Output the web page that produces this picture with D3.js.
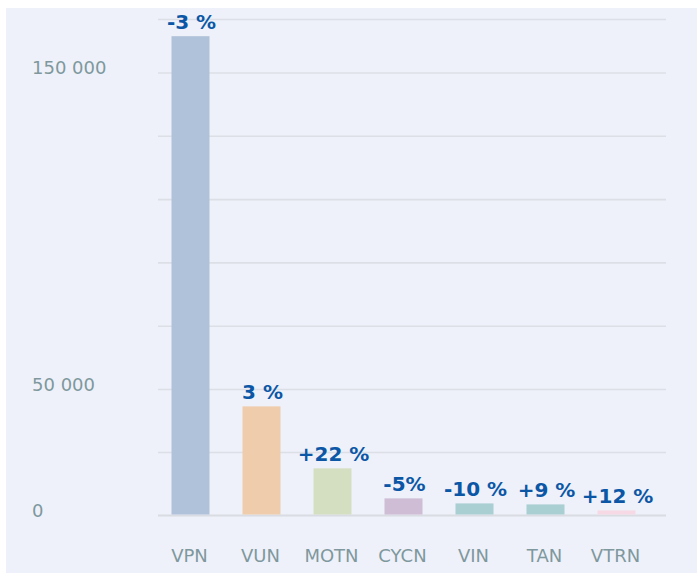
<!DOCTYPE html>
<html>
<head>
<meta charset="utf-8">
<script src="https://cdn.jsdelivr.net/npm/d3@7"></script>
<style>
  html, body { margin: 0; padding: 0; background: #ffffff; }
  svg { display: block; }
</style>
</head>
<body>
<svg id="chart" width="698" height="573"></svg>
<script>
// ---- data ----
const categories = ["VPN", "VUN", "MOTN", "CYCN", "VIN", "TAN", "VTRN"];
const values = [161700, 43300, 18700, 6800, 4800, 4400, 2000];
const changeLabels = ["-3 %", "3 %", "+22 %", "-5%", "-10 %", "+9 %", "+12 %"];
const barColors = ["#b0c1da", "#efccab", "#d4dec0", "#cfbdd6", "#a9cfd3", "#a9cfd3", "#f6d9e4"];
const tickValues = [0, 50000, 150000];
const tickLabels = ["0", "50 000", "150 000"];
const gridValues = [0, 25000, 50000, 70000, 90000, 110000, 130000, 150000, 167000];

// ---- layout ----
const svg = d3.select("#chart");
const W = 698, H = 573;
const plotLeft = 158, plotRight = 666;

svg.append("rect")
  .attr("x", 6).attr("y", 8)
  .attr("width", W - 7).attr("height", H - 8)
  .attr("fill", "#eef1f9");

const y = d3.scaleLinear()
  .domain([0, 50000, 150000, 167000])
  .range([515.5, 389.5, 73, 19.5]);

const x = d3.scaleBand()
  .domain(categories)
  .range([155, 652])
  .paddingInner(0.465)
  .paddingOuter(0.2325);

// gridlines
svg.append("g").selectAll("line")
  .data(gridValues)
  .join("line")
  .attr("x1", plotLeft).attr("x2", plotRight)
  .attr("y1", d => y(d)).attr("y2", d => y(d))
  .attr("stroke", d => d === 0 ? "#d9dce3" : "#dcdfe6")
  .attr("stroke-width", d => d === 0 ? 2 : 1.6);

// y tick labels
svg.append("g").selectAll("text")
  .data(tickValues)
  .join("text")
  .attr("x", 32)
  .attr("y", d => y(d) + 1)
  .attr("font-family", "DejaVu Sans, sans-serif")
  .attr("font-size", 18)
  .attr("fill", "#7f989d")
  .text((d, i) => tickLabels[i]);

// bars
svg.append("g").selectAll("rect")
  .data(categories)
  .join("rect")
  .attr("x", d => x(d))
  .attr("width", x.bandwidth())
  .attr("y", (d, i) => y(values[i]))
  .attr("height", (d, i) => y(0) - 1 - y(values[i]))
  .attr("fill", (d, i) => barColors[i]);

// value (change) labels
svg.append("g").selectAll("text")
  .data(categories)
  .join("text")
  .attr("x", d => x(d) + x.bandwidth() / 2 + 1)
  .attr("y", (d, i) => y(values[i]) - 7)
  .attr("text-anchor", "middle")
  .attr("font-family", "DejaVu Sans, sans-serif")
  .attr("font-weight", "bold")
  .attr("font-size", 20)
  .attr("fill", "#0b57a6")
  .text((d, i) => changeLabels[i]);

// category labels
svg.append("g").selectAll("text")
  .data(categories)
  .join("text")
  .attr("x", d => x(d) + x.bandwidth() / 2 - 1)
  .attr("y", 562)
  .attr("text-anchor", "middle")
  .attr("font-family", "DejaVu Sans, sans-serif")
  .attr("font-size", 18)
  .attr("fill", "#7f989d")
  .text(d => d);
</script>
</body>
</html>
